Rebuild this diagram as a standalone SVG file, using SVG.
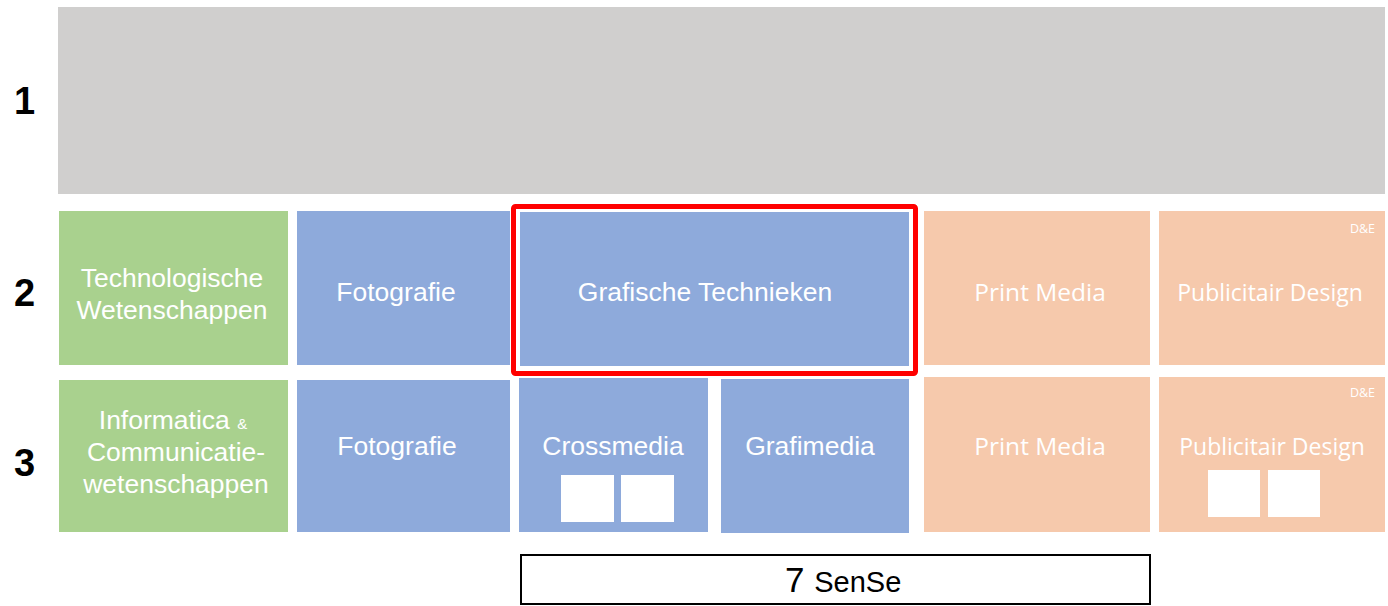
<svg xmlns="http://www.w3.org/2000/svg" width="1388" height="606" viewBox="0 0 1388 606">
<style>
.lbl{font-family:"Liberation Sans",Arial,sans-serif;font-weight:bold;font-size:38px;fill:#000}
.t{font-family:"Liberation Sans",Arial,sans-serif;font-size:26.5px;fill:#ffffff;text-anchor:middle}
.c{font-family:"Open Sans","Liberation Sans",sans-serif;font-size:24.5px;fill:#ffffff;text-anchor:middle}
.cd{font-family:"Open Sans","Liberation Sans",sans-serif;font-size:23px;fill:#ffffff;text-anchor:middle}
.s{font-family:"Open Sans","Liberation Sans",sans-serif;font-size:12.5px;fill:#ffffff;text-anchor:end}
.g{fill:#a9d18e}.b{fill:#8eaadb}.p{fill:#f6c9ac}.w{fill:#ffffff}
</style>
<rect width="1388" height="606" fill="#ffffff"/>
<g id="labels">
<text class="lbl" x="14" y="114">1</text>
<text class="lbl" x="14" y="306">2</text>
<text class="lbl" x="14" y="476">3</text>
</g>
<g id="level1"><rect x="58" y="7" width="1327" height="187" fill="#d0cfce"/></g>
<g id="tw"><rect class="g" x="59" y="211" width="229" height="154"/>
<text class="t" x="172" y="287">Technologische</text><text class="t" x="172" y="319">Wetenschappen</text></g>
<g id="foto2"><rect class="b" x="297" y="211" width="213" height="154"/><text class="t" x="396" y="301">Fotografie</text></g>
<g id="gt"><rect class="b" x="520" y="212" width="389" height="154"/><text class="t" x="705" y="301">Grafische Technieken</text>
<rect x="513.5" y="206.5" width="402" height="167" fill="none" stroke="#ff0000" stroke-width="5" rx="2"/></g>
<g id="pm2"><rect class="p" x="924" y="211" width="226" height="154"/><text class="c" x="1040" y="301">Print Media</text></g>
<g id="pd2"><rect class="p" x="1159" y="211" width="226" height="154"/><text class="s" x="1375" y="233">D&amp;E</text><text class="cd" x="1270" y="301">Publicitair Design</text></g>
<g id="ic"><rect class="g" x="59" y="380" width="229" height="152"/>
<text class="t" x="173" y="429">Informatica <tspan font-size="15">&amp;</tspan></text>
<text class="t" x="176" y="461">Communicatie-</text>
<text class="t" x="176" y="493">wetenschappen</text></g>
<g id="foto3"><rect class="b" x="297" y="380" width="213" height="152"/><text class="t" x="397" y="455">Fotografie</text></g>
<g id="cm"><rect class="b" x="519" y="378" width="189" height="154"/><text class="t" x="613" y="455">Crossmedia</text>
<rect class="w" x="561" y="475" width="53" height="47"/><rect class="w" x="621" y="475" width="53" height="47"/></g>
<g id="gm"><rect class="b" x="721" y="379" width="188" height="154"/><text class="t" x="810" y="455">Grafimedia</text></g>
<g id="pm3"><rect class="p" x="924" y="377" width="226" height="155"/><text class="c" x="1040" y="455">Print Media</text></g>
<g id="pd3"><rect class="p" x="1159" y="377" width="226" height="155"/><text class="s" x="1375" y="397">D&amp;E</text><text class="cd" x="1272" y="455">Publicitair Design</text>
<rect class="w" x="1208" y="470" width="52" height="47"/><rect class="w" x="1268" y="470" width="52" height="47"/></g>
<g id="sense"><rect x="521" y="555" width="629" height="49" fill="#ffffff" stroke="#000" stroke-width="2"/>
<text x="785" y="592" font-family="Liberation Sans,Arial,sans-serif" font-size="35" fill="#000">7 <tspan font-size="29">SenSe</tspan></text></g>
<g id="connectors"/>
</svg>
